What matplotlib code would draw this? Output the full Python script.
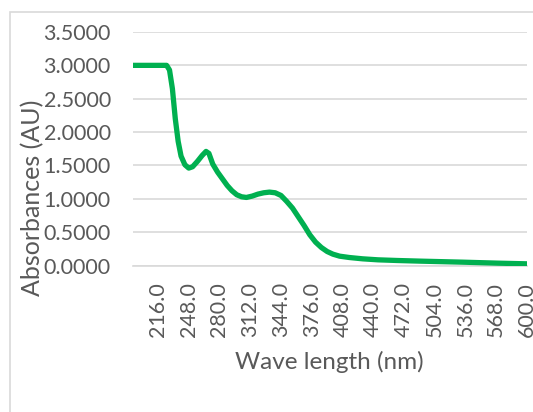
import matplotlib
matplotlib.use("Agg")
import matplotlib.pyplot as plt
from matplotlib.patches import Rectangle

# Spectrum (wavelength in nm, absorbance in AU)
wavelength = [190, 200, 210, 220, 225, 228, 231, 234, 237, 240, 244, 248, 252,
              257, 262, 266, 269, 273, 278, 283, 288, 293, 298, 303, 308, 314,
              320, 326, 332, 338, 344, 350, 356, 362, 368, 374, 380, 386, 392,
              398, 405, 415, 429, 445, 465, 490, 533, 570, 600]
absorbance = [3.0, 3.0, 3.0, 3.0, 3.0, 2.93, 2.65, 2.2, 1.86, 1.64, 1.51, 1.46,
              1.48, 1.56, 1.65, 1.71, 1.68, 1.52, 1.40, 1.30, 1.20, 1.12, 1.06,
              1.03, 1.02, 1.04, 1.07, 1.09, 1.10, 1.09, 1.05, 0.96, 0.86, 0.73,
              0.60, 0.46, 0.35, 0.27, 0.21, 0.17, 0.14, 0.12, 0.10, 0.085,
              0.075, 0.065, 0.05, 0.035, 0.025]

x_ticks = list(range(216, 601, 32))
y_ticks = [0.0, 0.5, 1.0, 1.5, 2.0, 2.5, 3.0, 3.5]

text_color = "#595959"
grid_color = "#D9D9D9"
plt.rcParams['font.family'] = ['Lato', 'DejaVu Sans']

fig = plt.figure(figsize=(5.33, 4.12), dpi=100)
ax = fig.add_axes([133 / 533, 1 - 265.5 / 412, (527 - 133) / 533, (265.5 - 32) / 412])

# outer chart border (runs off the right and bottom edges)
fig.patches.append(Rectangle((10 / 533, -0.1), 1.2, 1 - 12 / 412 + 0.1,
                             transform=fig.transFigure, fill=False,
                             edgecolor=grid_color, linewidth=1.2))

ax.plot(wavelength, absorbance, color="#00B050", linewidth=3.8,
        solid_joinstyle="round", solid_capstyle="round", zorder=3)

ax.set_xlim(190, 600)
ax.set_ylim(0, 3.5)
ax.set_xticks(x_ticks)
ax.set_xticklabels([f"{v:.1f}" for v in x_ticks], rotation=90)
ax.set_yticks(y_ticks)
ax.set_yticklabels([f"{v:.4f}" for v in y_ticks])
ax.tick_params(axis="both", length=0, labelsize=15.5, labelcolor=text_color)
ax.tick_params(axis="y", pad=16)
ax.tick_params(axis="x", pad=12)

ax.grid(axis="y", color=grid_color, linewidth=1.2)
ax.set_axisbelow(True)
for s in ["top", "right", "left"]:
    ax.spines[s].set_visible(False)
ax.spines["bottom"].set_color(grid_color)
ax.spines["bottom"].set_linewidth(1.2)

fig.text(33 / 533, 1 - 198 / 412, "Absorbances (AU)", rotation=90,
         ha="center", va="center", fontsize=18, color=text_color)
fig.text(329 / 533, 1 - 362 / 412, "Wave length (nm)",
         ha="center", va="center", fontsize=17.5, color=text_color)

fig.savefig("out.png", dpi=100)
